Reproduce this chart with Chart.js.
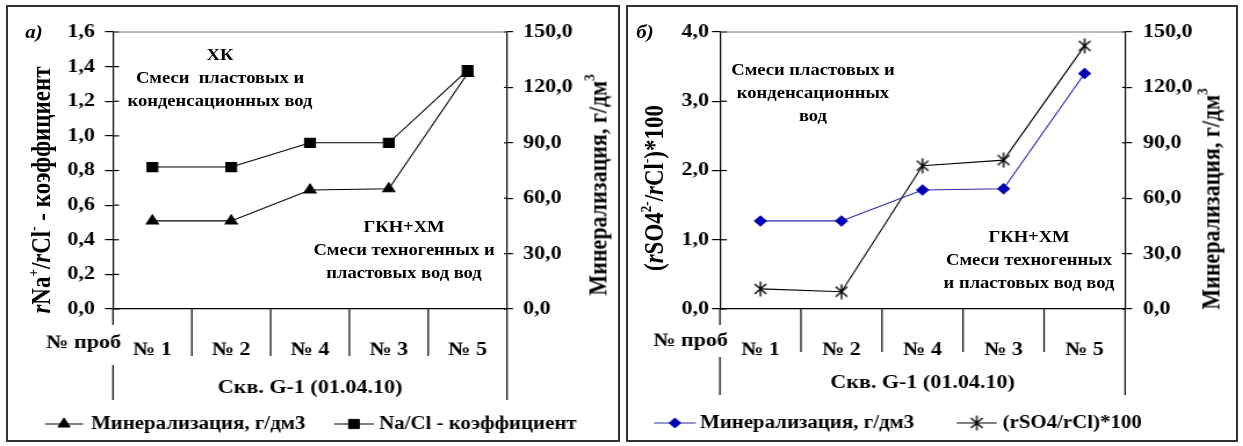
<!DOCTYPE html>
<html>
<head>
<meta charset="utf-8">
<script src="https://cdn.jsdelivr.net/npm/chart.js@4.4.0/dist/chart.umd.min.js"></script>
<style>
  body { margin: 0; background: #fff; width: 1243px; height: 446px; position: relative; overflow: hidden;
         font-family: "Liberation Serif", "Times New Roman", serif; font-weight: bold; color: #000; }
  canvas { position: absolute; top: 0; }
  .frame { position: absolute; border: 2px solid #333; box-sizing: border-box; }
  /* the original figure is a slightly widened excel picture, so texts are stretched by 1.16 */
  .t { position: absolute; white-space: nowrap; font-size: 16px; text-align: center; line-height: 23px;
       transform: translate(-50%, -50%) scaleX(1.16); }
  .rot { font-size: 22px; line-height: 26px; transform: translate(-50%, -50%) scaleX(1.16) rotate(-90deg); }
  .big { font-size: 23px; }
  .tag { font-style: italic; font-size: 18px; }
  sup { font-size: 13px; line-height: 0; vertical-align: 0.8em; }
</style>
</head>
<body>
<div class="frame" style="left:6px;top:5px;width:614px;height:437px"></div>
<div class="frame" style="left:626px;top:5px;width:612px;height:437px"></div>
<canvas id="chartA" width="534" height="446" style="left:0;width:620px;height:446px"></canvas>
<canvas id="chartB" width="537" height="446" style="left:620px;width:623px;height:446px"></canvas>

<div class="t tag" style="left:34px;top:32px">а)</div>
<div class="t rot big" style="left:42px;top:190px"><i>r</i>Na<sup>+</sup>/<i>r</i>Cl<sup>-</sup> - коэффициент</div>
<div class="t rot" style="left:598px;top:185px">Минерализация, г/дм<sup>3</sup></div>
<div class="t" style="left:220px;top:77px">ХК<br>Смеси&nbsp; пластовых и<br>конденсационных вод</div>
<div class="t" style="left:404px;top:249px">ГКН+ХМ<br>Смеси техногенных и<br>пластовых вод вод</div>

<div class="t tag" style="left:645px;top:32px">б)</div>
<div class="t rot big" style="left:655px;top:188px">(<i>r</i>SO4<sup>2-</sup>/<i>r</i>Cl<sup>-</sup>)*100</div>
<div class="t rot" style="left:1211px;top:199px">Минерализация, г/дм<sup>3</sup></div>
<div class="t" style="left:813px;top:92px">Смеси пластовых и<br>конденсационных<br>вод</div>
<div class="t" style="left:1029px;top:259px">ГКН+ХМ<br>Смеси техногенных<br>и пластовых вод вод</div>

<script>
const samples = ['№ 1', '№ 2', '№ 4', '№ 3', '№ 5'];
const mineralization = [47.7, 47.7, 64.4, 65.1, 127.5];
const naClRatio = [0.82, 0.82, 0.96, 0.96, 1.38];
const so4ClRatio = [0.29, 0.25, 2.07, 2.15, 3.80];

const naClTicks = [0, 0.2, 0.4, 0.6, 0.8, 1.0, 1.2, 1.4, 1.6];
const so4Ticks = [0, 1, 2, 3, 4];
const mineralTicks = [0, 30, 60, 90, 120, 150];

const sampleHeader = '№ проб';
const wellLabel = 'Скв. G-1 (01.04.10)';

const SX = 620 / 534;               // horizontal stretch of the canvases
const px = v => v / SX;             // page px -> canvas px (horizontal)

const FONT = { family: '"Liberation Serif", "Times New Roman", serif', size: 19, weight: 'bold' };
const FONT_CSS = 'bold 19px "Liberation Serif", "Times New Roman", serif';
const LEGEND_CSS = 'bold 18px "Liberation Serif", "Times New Roman", serif';

const decimalComma = v => Number(v).toFixed(1).replace('.', ',');
const fixedTicks = list => scale => { scale.ticks = list.map(v => ({ value: v })); };

// excel-like asterisk marker (vertical bar + X)
function asterisk(color) {
  const c = document.createElement('canvas');
  c.width = 14; c.height = 16;
  const g = c.getContext('2d');
  g.strokeStyle = color; g.lineWidth = 1.4;
  g.beginPath();
  g.moveTo(7, 0.5); g.lineTo(7, 15.5);
  g.moveTo(2, 3); g.lineTo(12, 13);
  g.moveTo(12, 3); g.lineTo(2, 13);
  g.stroke();
  return c;
}

function yAxis(pos, ticks, width, tickLen, pad) {
  return {
    position: pos,
    min: ticks[0],
    max: ticks[ticks.length - 1],
    afterBuildTicks: fixedTicks(ticks),
    grid: { drawOnChartArea: false, tickLength: px(tickLen), color: '#000', lineWidth: 1.2 },
    border: { color: '#000', width: 1.2 },
    ticks: { padding: px(pad), color: '#000', font: FONT, callback: decimalComma },
    afterFit: s => { s.width = px(width); }
  };
}

// inner tick halves, plot frame top, the sample table under the axis, legend
function decor(spec) {
  return {
    id: 'decor',
    afterDraw(chart) {
      const { ctx, chartArea: a, scales } = chart;
      const line = (x0, y0, x1, y1) => { ctx.beginPath(); ctx.moveTo(x0, y0); ctx.lineTo(x1, y1); ctx.stroke(); };
      ctx.save();
      ctx.strokeStyle = '#000';
      ctx.lineWidth = 1.2;
      scales.yL.ticks.forEach(t => { const y = scales.yL.getPixelForValue(t.value); line(a.left, y, a.left + px(spec.inL), y); });
      scales.yR.ticks.forEach(t => { const y = scales.yR.getPixelForValue(t.value); line(a.right, y, a.right - px(spec.inR), y); });

      const xs = scales.x;
      for (let i = 1; i < samples.length; i++) {
        const x = (xs.getPixelForValue(i - 1) + xs.getPixelForValue(i)) / 2;
        line(x, a.bottom, x, a.bottom + spec.divLen);
      }
      line(a.left, a.bottom, a.left, a.bottom + 16);
      line(a.left, spec.lowTop, a.left, spec.lowBottom);
      line(a.right, a.bottom, a.right, spec.lowBottom);

      ctx.strokeStyle = '#777';
      ctx.lineWidth = 1;
      line(a.left, a.top, a.right, a.top);

      ctx.font = FONT_CSS;
      ctx.fillStyle = '#000';
      ctx.textBaseline = 'middle';
      ctx.textAlign = 'right';
      ctx.fillText(sampleHeader, a.left + px(8), spec.catY);
      ctx.textAlign = 'center';
      ctx.fillText(wellLabel, (a.left + a.right) / 2, spec.wellY);

      ctx.font = LEGEND_CSS;
      ctx.textAlign = 'left';
      spec.legend.forEach(item => {
        const ds = chart.data.datasets[item.ds];
        ctx.strokeStyle = ds.borderColor;
        ctx.lineWidth = 1.2;
        line(px(item.x0), spec.legY, px(item.x1), spec.legY);
        ctx.fillStyle = ds.pointBackgroundColor;
        ctx.strokeStyle = ds.pointBorderColor;
        ctx.lineWidth = 1;
        Chart.helpers.drawPoint(ctx, { pointStyle: ds.pointStyle, radius: ds.pointRadius, rotation: 0, borderWidth: 1 },
          px((item.x0 + item.x1) / 2), spec.legY);
        ctx.fillStyle = '#000';
        ctx.fillText(ds.label, px(item.tx), spec.legY);
      });
      ctx.restore();
    }
  };
}

const xAxis = {
  type: 'category',
  labels: samples,
  offset: true,
  grid: { display: false },
  border: { color: '#000', width: 1.2 },
  ticks: { padding: 22, color: '#000', font: FONT, maxRotation: 0 },
  afterFit: s => { s.height = 137; }
};

const common = {
  responsive: false,
  animation: false,
  layout: { padding: { top: 32, left: 0, right: 0, bottom: 0 } },
  plugins: { legend: { display: false }, tooltip: { enabled: false } }
};

new Chart(document.getElementById('chartA'), {
  type: 'line',
  data: {
    labels: samples,
    datasets: [
      {
        label: 'Минерализация, г/дм3', data: mineralization, yAxisID: 'yR',
        borderColor: '#000', borderWidth: 1.1, pointStyle: 'triangle', pointRadius: 6,
        pointBackgroundColor: '#000', pointBorderColor: '#000'
      },
      {
        label: 'Na/Cl - коэффициент', data: naClRatio, yAxisID: 'yL',
        borderColor: '#000', borderWidth: 1.1, pointStyle: 'rect', pointRadius: 6.5,
        pointBackgroundColor: '#000', pointBorderColor: '#000'
      }
    ]
  },
  options: {
    ...common,
    scales: {
      x: xAxis,
      yL: yAxis('left', naClTicks, 113, 8, 10),
      yR: yAxis('right', mineralTicks, 113, 6, 10)
    }
  },
  plugins: [decor({
    inL: 6, inR: 3, divLen: 47, lowTop: 365, lowBottom: 400, catY: 343, wellY: 388, legY: 424,
    legend: [{ ds: 0, x0: 45, x1: 83, tx: 91 }, { ds: 1, x0: 334, x1: 374, tx: 379 }]
  })]
});

new Chart(document.getElementById('chartB'), {
  type: 'line',
  data: {
    labels: samples,
    datasets: [
      {
        label: 'Минерализация, г/дм3', data: mineralization, yAxisID: 'yR',
        borderColor: '#2a2aa8', borderWidth: 1.1, pointStyle: 'rectRot', pointRadius: 5,
        pointBackgroundColor: '#0000b0', pointBorderColor: '#0000b0'
      },
      {
        label: '(rSO4/rCl)*100', data: so4ClRatio, yAxisID: 'yL',
        borderColor: '#000', borderWidth: 1.1, pointStyle: asterisk('#000'), pointRadius: 7,
        pointBackgroundColor: '#000', pointBorderColor: '#000'
      }
    ]
  },
  options: {
    ...common,
    scales: {
      x: xAxis,
      yL: yAxis('left', so4Ticks, 100, 8, 3),
      yR: yAxis('right', mineralTicks, 118, 7, 11)
    }
  },
  plugins: [decor({
    inL: 7, inR: 3, divLen: 43, lowTop: 357, lowBottom: 395, catY: 341, wellY: 383, legY: 423,
    legend: [{ ds: 0, x0: 34, x1: 76, tx: 80 }, { ds: 1, x0: 337, x1: 377, tx: 383 }]
  })]
});
</script>
</body>
</html>
